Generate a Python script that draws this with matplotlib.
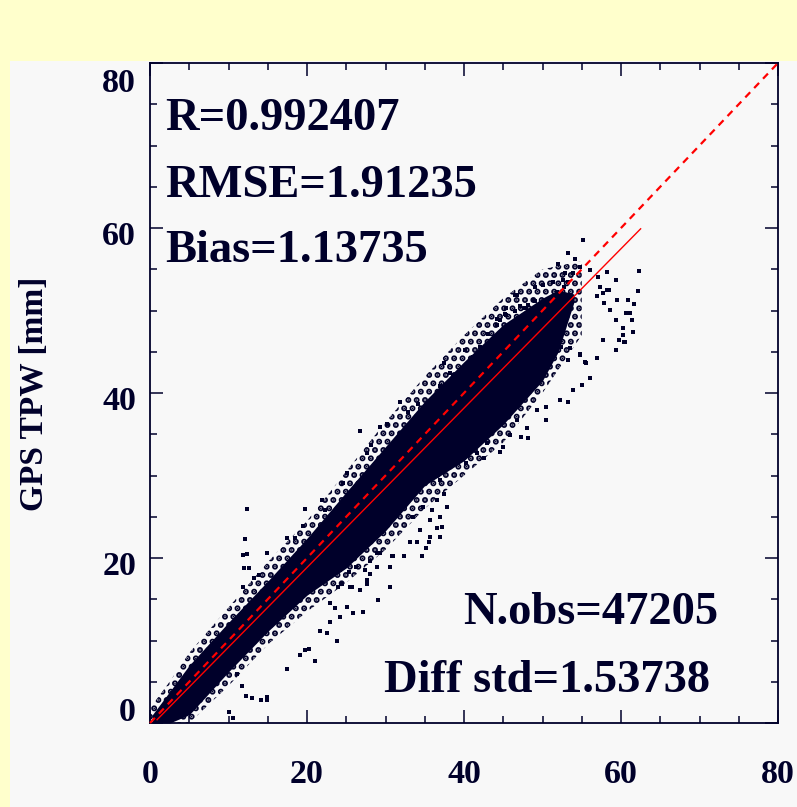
import numpy as np
import matplotlib
matplotlib.use('Agg')
import matplotlib.pyplot as plt
from matplotlib.patches import Rectangle
from matplotlib.transforms import ScaledTranslation

# ---- data ----
# dense core of the cloud (lower / upper edge of the solid black band)
band_x = [0.3, 2.5, 5, 10, 15, 20, 25, 30, 35, 40, 45, 50, 52, 54]
band_lo = [0.0, 0.0, 1.0, 6.2, 11.1, 15.5, 18.8, 23.3, 28.8, 31.8, 36.2, 41.5, 45.0, 51.0]
band_hi = [1.0, 3.8, 7.0, 12.2, 17.2, 22.4, 28.0, 33.5, 39.0, 43.8, 48.3, 51.5, 52.5, 52.0]

# outer, sparser fringe of the cloud
env_x = [0, 2.5, 5, 10, 15, 20, 25, 30, 35, 40, 45, 50, 55]
env_lo = [0.0, 0.0, 0.0, 4.5, 9.5, 13.5, 17.0, 21.0, 26.0, 30.0, 34.0, 40.0, 47.0]
env_hi = [1.8, 5.0, 8.5, 14.0, 19.5, 24.5, 30.5, 36.5, 42.0, 47.0, 51.5, 55.0, 56.0]

# scattered points outside the dense core (model TPW, GPS TPW)
pts_x = [12.3, 12.1, 11.8, 12.4, 12.0, 12.6, 11.9, 13.2, 13.9, 14.9, 11.1, 11.7,
         12.2, 13.0, 14.1, 14.9, 14.9, 10.0, 10.6, 17.5, 21.0, 19.1, 19.8, 20.2,
         21.6, 22.5, 23.8, 22.9, 24.2, 25.1, 25.9, 27.1, 24.0, 25.5, 26.8, 27.6,
         29.1, 24.2, 25.3, 26.3, 27.4, 28.0, 28.9, 30.6, 31.0, 22.9, 23.6,
         55.2, 53.2, 54.1, 54.8, 52.9, 52.0, 62.3, 62.2, 59.4, 58.2, 57.1, 57.3,
         58.5, 57.7, 59.5, 60.9, 61.6, 61.1, 61.5, 60.2, 59.4, 60.4, 57.7, 57.0,
         55.6, 54.8, 56.1, 55.0, 53.9, 53.2, 52.2, 50.5, 49.3, 48.2, 46.7,
         46.7, 44.2, 45.4, 42.0, 40.1, 37.4, 41.2, 38.2, 31.8, 34.2, 35.0,
         49.0, 50.1, 51.4, 52.6, 53.9,
         26.8, 29.3, 30.2, 28.1, 27.7, 24.6, 25.1, 21.9, 19.8, 22.3, 17.5, 18.5, 19.5,
         36.9, 37.4, 36.5, 37.8, 36.9, 34.8, 35.9, 35.7, 33.5, 34.4, 36.5, 37.2,
         35.7, 36.9, 33.1, 34.0, 35.5, 35.2, 34.6, 32.3, 30.8, 29.3, 30.6, 28.9,
         28.0, 27.6, 30.6, 25.7, 24.4,
         43.1, 44.2, 45.4, 46.5, 47.1, 48.2, 49.0, 32.9, 36.1, 36.9, 38.6,
         50.5, 48.0, 47.3, 45.9, 45.0, 44.6, 42.9, 43.3, 41.6, 40.3, 42.5,
         56.1, 60.7, 61.4, 59.4, 58.6, 57.8, 56.9, 58.2, 60.3, 59.7, 60.5,
         55.4, 54.8, 53.3, 53.5, 52.4, 48.8, 47.8, 46.5, 45.2, 44.6,
         52.0, 51.4, 50.5, 53.3, 52.7, 51.8]
pts_y = [25.9, 22.3, 20.4, 20.5, 18.8, 18.8, 16.5, 17.6, 17.9, 20.6, 6.0, 4.5,
         3.3, 3.0, 2.8, 2.8, 3.2, 1.3, 0.6, 6.6, 7.5, 8.3, 8.8, 9.0,
         11.1, 10.9, 9.9, 12.3, 12.9, 14.1, 13.3, 13.5, 16.5, 16.5, 16.1, 16.9,
         14.9, 18.5, 18.3, 18.9, 18.5, 19.6, 20.6, 16.5, 20.2, 14.5, 13.9,
         58.6, 57.0, 56.2, 55.3, 54.6, 55.6, 54.8, 52.4, 53.7, 54.7, 54.1, 52.9,
         52.5, 52.1, 51.3, 51.3, 50.8, 49.7, 47.4, 47.9, 45.2, 46.2, 46.4, 44.3,
         43.6, 44.6, 41.8, 41.0, 40.4, 38.9, 39.2, 36.7, 37.9, 34.5, 36.7,
         51.9, 49.0, 50.3, 45.6, 45.2, 43.6, 44.4, 42.4, 38.9, 38.7, 37.9,
         52.9, 53.1, 53.5, 53.7, 54.5,
         35.4, 35.9, 36.3, 33.7, 32.7, 29.1, 30.3, 27.0, 26.0, 25.8, 22.4, 22.4, 23.9,
         29.5, 27.8, 27.0, 26.2, 25.0, 26.2, 25.8, 24.6, 25.0, 23.4, 23.6, 23.7,
         22.6, 22.6, 22.0, 22.0, 22.0, 21.2, 20.2, 20.2, 20.2, 20.6, 18.9, 18.9,
         18.1, 17.3, 16.5, 16.5, 16.9,
         47.2, 48.2, 49.5, 49.9, 50.5, 50.7, 51.1, 37.7, 39.2, 40.8, 42.0,
         38.3, 35.7, 34.7, 34.9, 33.5, 32.9, 33.9, 35.5, 32.7, 31.5, 32.1,
         54.9, 49.7, 48.9, 48.9, 50.1, 50.9, 51.7, 52.5, 47.0, 46.4, 46.2,
         43.8, 44.7, 44.0, 45.4, 45.6, 51.3, 50.3, 51.9, 49.6, 48.8,
         51.5, 51.1, 50.5, 53.5, 52.9, 52.3]

# regression line end points and the 1:1 line
fit_x = [0.9, 62.5]
fit_y = [0.4, 59.9]
one_x = [0, 80]
one_y = [0, 80]

stats_top = ['R=0.992407', 'RMSE=1.91235', 'Bias=1.13735']
stats_bottom = ['N.obs=47205', 'Diff std=1.53738']
ticks = [0, 20, 40, 60, 80]
minor_ticks = list(range(0, 81, 5))

navy = '#00002a'
W, H = 797, 807

plt.rcParams['font.family'] = ['Liberation Serif', 'DejaVu Serif']
plt.rcParams['font.weight'] = 'bold'
plt.rcParams['hatch.linewidth'] = 3.0

fig = plt.figure(figsize=(W / 100, H / 100), dpi=100, facecolor='#ffffcc')
fig.patches.append(Rectangle((10 / W, 0), (W - 10) / W, (H - 61) / H,
                             transform=fig.transFigure, facecolor='#f8f8f8',
                             edgecolor='none', zorder=-10))

ax = fig.add_axes([150 / W, 84 / H, 628 / W, 660 / H])
ax.set_facecolor('#f8f8f8')
ax.set_xlim(0, 80)
ax.set_ylim(0, 80)

ax.fill_between(env_x, env_lo, env_hi, facecolor='none', edgecolor=navy,
                hatch='..', lw=0, zorder=2)
ax.fill_between(band_x, band_lo, band_hi, color=navy, lw=0, zorder=2)
ax.plot(pts_x, pts_y, 's', color=navy, markersize=2.3, mew=0, zorder=2)
ax.plot(one_x, one_y, color='#ff0000', lw=1.6, dashes=(3.2, 2.6), zorder=3,
        clip_on=False)
ax.plot(fit_x, fit_y, color='#ff0000', lw=1.0, zorder=3)

for s in ax.spines.values():
    s.set_color(navy)
    s.set_linewidth(1.3)

ax.set_xticks(ticks)
ax.set_yticks(ticks)
ax.set_xticks(minor_ticks, minor=True)
ax.set_yticks(minor_ticks, minor=True)
ax.tick_params(which='both', direction='in', top=True, right=True,
               color=navy, width=1.1, labelcolor=navy, labelsize=24.5)
ax.tick_params(which='major', length=9.4)
ax.tick_params(which='minor', length=5)
ax.tick_params(axis='x', pad=26)
ax.tick_params(axis='y', pad=10)

# y labels sit a little low, end labels kept inside the axis range
off = ScaledTranslation(0, -5 / 100, fig.dpi_scale_trans)
ylabs = ax.get_yticklabels()
for lab in ylabs:
    lab.set_transform(lab.get_transform() + off)
ylabs[0].set_va('bottom')
ylabs[-1].set_va('top')

ax.set_ylabel('GPS TPW [mm]', fontsize=24, color=navy, fontweight='bold')
ax.yaxis.set_label_coords(50 / W, (H - 394) / H, transform=fig.transFigure)

top_base = [130, 197, 262]
for txt, yb in zip(stats_top, top_base):
    fig.text(165 / W, 1 - yb / H, txt, fontsize=33.5, color=navy,
             fontweight='bold', va='baseline', ha='left')
bot_base = [624, 692]
bot_right = [718, 710]
for txt, yb, xr in zip(stats_bottom, bot_base, bot_right):
    fig.text(xr / W, 1 - yb / H, txt, fontsize=33.5, color=navy,
             fontweight='bold', va='baseline', ha='right')

fig.savefig('out.png', dpi=100, facecolor=fig.get_facecolor())
